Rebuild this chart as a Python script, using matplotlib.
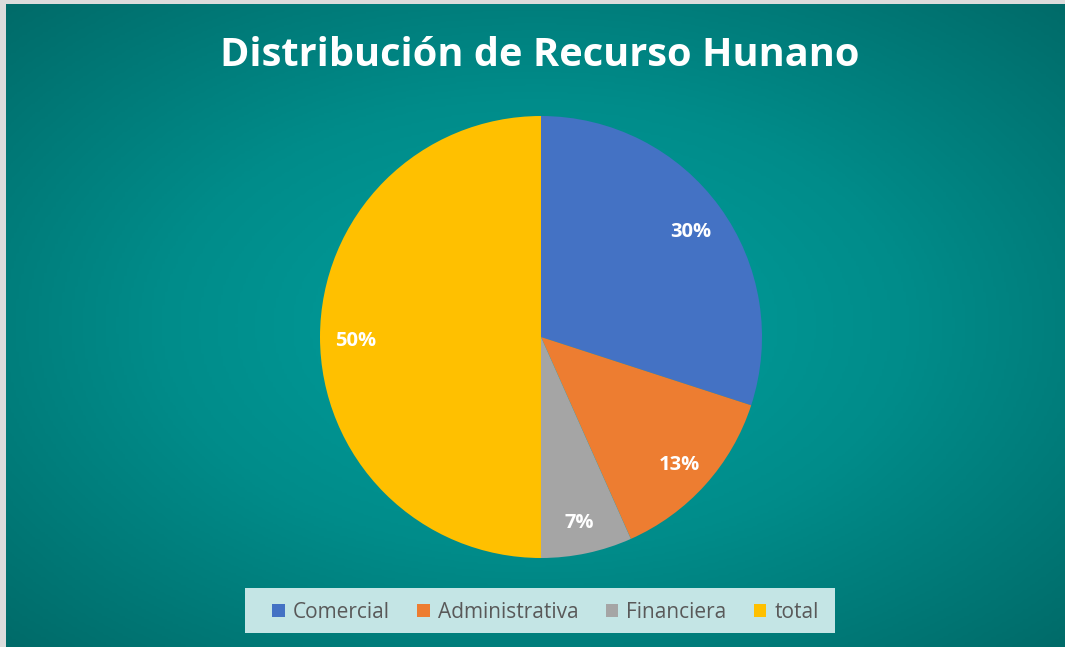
import numpy as np
import matplotlib
matplotlib.use("Agg")
import matplotlib.pyplot as plt
import matplotlib.transforms as mtransforms
from matplotlib.patches import Patch, Rectangle
from matplotlib.colors import LinearSegmentedColormap

categories = ["Comercial", "Administrativa", "Financiera", "total"]
values = [9, 4, 2, 15]
colors = ["#4472C4", "#ED7D31", "#A5A5A5", "#FFC000"]
title = "Distribución de Recurso Hunano"

W, H = 1065, 647
fig = plt.figure(figsize=(W / 100, H / 100), dpi=100)
fig.patch.set_facecolor("#DCDCDC")

# background gradient axes
x0, y0 = 6 / W, 0
bw, bh = 1 - x0, 1 - 4 / H
bg = fig.add_axes([x0, y0, bw, bh])
bg.set_axis_off()
nx, ny = 400, 250
xx, yy = np.meshgrid(np.linspace(-1, 1, nx), np.linspace(-1, 1, ny))
d = np.sqrt((xx * 1.0) ** 2 + (yy * 1.0) ** 2) / np.sqrt(2)
cmap = LinearSegmentedColormap.from_list("t", ["#00A09E", "#008C8A", "#006B69"])
bg.imshow(d, cmap=cmap, aspect="auto", extent=[0, 1, 0, 1], vmin=0, vmax=1)
bg.set_xlim(0, 1)
bg.set_ylim(0, 1)

# pie
cx, cy, r = 541, 647 - 337, 221
ax = fig.add_axes([(cx - r) / W, (cy - r) / H, 2 * r / W, 2 * r / H])
ax.set_axis_off()
wedges, texts, autotexts = ax.pie(
    values, colors=colors, startangle=90, counterclock=False,
    autopct=lambda p: f"{p:.0f}%", pctdistance=0.84, radius=1.0,
    textprops=dict(color="white", fontsize=14.5, fontweight="bold", family="Open Sans"),
)
off = mtransforms.ScaledTranslation(0, -4 / 100, fig.dpi_scale_trans)
for t in autotexts:
    t.set_transform(t.get_transform() + off)
ax.set_xlim(-1, 1)
ax.set_ylim(-1, 1)
ax.set_aspect("auto")

fig.text(540 / W, 1 - 56 / H, title, ha="center", va="center", color="white",
         fontsize=28.6, fontweight="bold", family="Open Sans")

# legend
lx0, ly0, lx1, ly1 = 245, 588, 835, 633
fig.patches.append(Rectangle((lx0 / W, 1 - ly1 / H), (lx1 - lx0) / W, (ly1 - ly0) / H,
                             transform=fig.transFigure, facecolor="#C4E5E5",
                             edgecolor="none", zorder=5))
handles = [Patch(facecolor=c, edgecolor="none") for c in colors]
leg = fig.legend(handles, categories, loc="center", ncol=4,
                 bbox_to_anchor=((274 + 817) / 2 / W, 1 - ((ly0 + ly1) / 2 + 2) / H),
                 frameon=False, handlelength=0.6, handleheight=0.6,
                 handletextpad=0.4, columnspacing=1.3,
                 prop=dict(family="Open Sans", size=15))
for t in leg.get_texts():
    t.set_color("#595959")
leg.set_zorder(6)

fig.savefig("out.png", dpi=100)
